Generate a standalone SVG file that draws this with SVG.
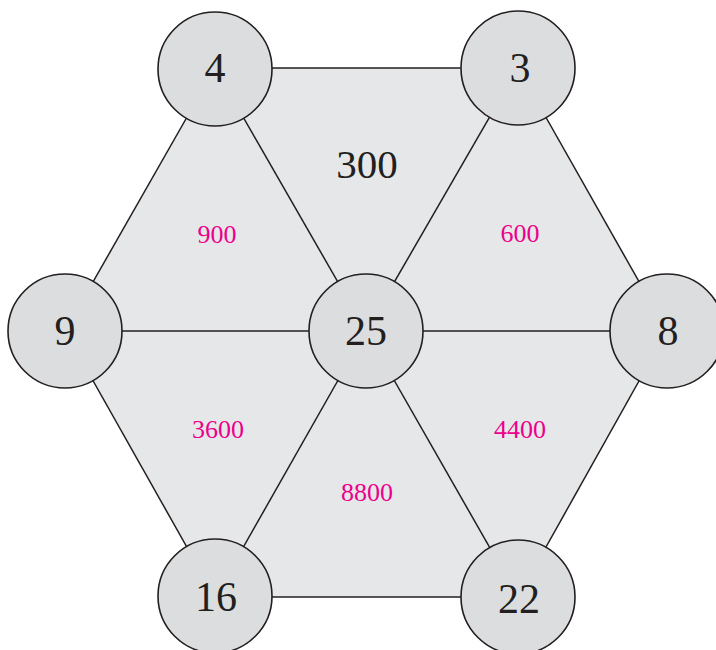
<svg xmlns="http://www.w3.org/2000/svg" width="716" height="650" viewBox="0 0 716 650">
<style>
.edge{stroke:#231f20;stroke-width:1.5;fill:none}
.node circle{fill:#dcdddf;stroke:#231f20;stroke-width:1.6}
.node text{font-family:"Liberation Serif","Times New Roman",serif;font-size:42px;fill:#231f20;text-anchor:middle}
.val{font-family:"Liberation Serif","Times New Roman",serif;font-size:26px;fill:#ec008c;text-anchor:middle}
.big{font-family:"Liberation Serif","Times New Roman",serif;font-size:41px;fill:#231f20;text-anchor:middle}
</style>
<rect width="716" height="650" fill="#ffffff"/>
<polygon points="215,68 518,68 667,331 518,597 215,597 65,331" fill="#e6e7e8"/>
<g id="connectors">
<line class="edge" x1="215" y1="68" x2="518" y2="68"/>
<line class="edge" x1="518" y1="68" x2="667" y2="331"/>
<line class="edge" x1="667" y1="331" x2="518" y2="597"/>
<line class="edge" x1="518" y1="597" x2="215" y2="597"/>
<line class="edge" x1="215" y1="597" x2="65" y2="331"/>
<line class="edge" x1="65" y1="331" x2="215" y2="68"/>
<line class="edge" x1="366" y1="331" x2="215" y2="68"/>
<line class="edge" x1="366" y1="331" x2="518" y2="68"/>
<line class="edge" x1="366" y1="331" x2="667" y2="331"/>
<line class="edge" x1="366" y1="331" x2="518" y2="597"/>
<line class="edge" x1="366" y1="331" x2="215" y2="597"/>
<line class="edge" x1="366" y1="331" x2="65" y2="331"/>
</g>
<text class="big" x="367" y="178">300</text>
<text class="val" x="217" y="243">900</text>
<text class="val" x="520" y="242">600</text>
<text class="val" x="218" y="438">3600</text>
<text class="val" x="520" y="438">4400</text>
<text class="val" x="367" y="501">8800</text>
<g id="n4" class="node"><circle cx="215" cy="69" r="57"/><text x="215" y="82">4</text></g>
<g id="n3" class="node"><circle cx="518" cy="68" r="57"/><text x="520" y="82">3</text></g>
<g id="n9" class="node"><circle cx="65" cy="331" r="57"/><text x="65" y="345">9</text></g>
<g id="n25" class="node"><circle cx="366" cy="331" r="57"/><text x="366" y="345">25</text></g>
<g id="n8" class="node"><circle cx="667" cy="331" r="57"/><text x="668" y="345">8</text></g>
<g id="n16" class="node"><circle cx="215" cy="596" r="57"/><text x="216" y="611">16</text></g>
<g id="n22" class="node"><circle cx="518" cy="597" r="57"/><text x="519" y="613">22</text></g>
</svg>
